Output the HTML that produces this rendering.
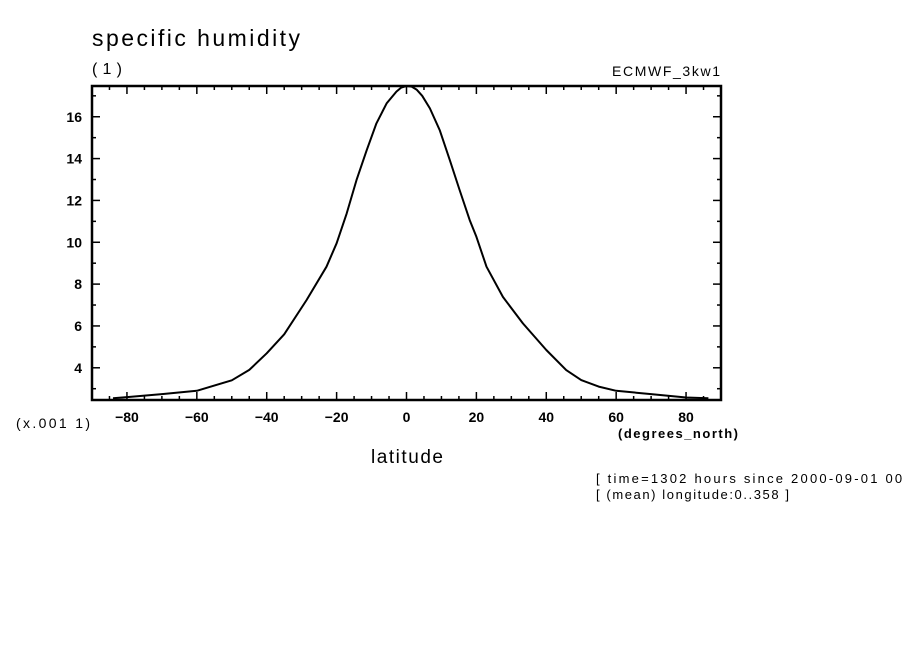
<!DOCTYPE html>
<html><head><meta charset="utf-8"><style>
html,body{margin:0;padding:0;background:#fff;}
svg text{font-family:"Liberation Sans",sans-serif;fill:#000;}
</style></head><body>
<svg id="chart" width="904" height="654" viewBox="0 0 904 654" xmlns="http://www.w3.org/2000/svg">
<text x="92" y="46" font-size="23" textLength="208" lengthAdjust="spacing">specific humidity</text>
<text x="92" y="74" font-size="16" textLength="30">(1)</text>
<text x="612" y="76" font-size="14" textLength="108">ECMWF_3kw1</text>
<text x="16" y="428" font-size="14" textLength="74">(x.001 1)</text>
<text x="618" y="438" font-size="13" font-weight="bold" textLength="120">(degrees_north)</text>
<text x="371" y="463" font-size="19" textLength="72">latitude</text>
<text x="596" y="483" font-size="13" textLength="312">[ time=1302 hours since 2000-09-01 00:</text>
<text x="596" y="499" font-size="13" textLength="193">[ (mean) longitude:0..358 ]</text>
<g id="axes"></g>
<g id="series"></g>
</svg>
<script>
const lats = [-84,-80,-70,-60,-50,-45,-40,-35,-28.6,-22.9,-20,-17.1,-14.3,-11.4,-8.6,-5.7,-2.9,-1.5,0,1.5,2.9,4.5,6.7,9.5,12.4,15.2,18.1,20,22.9,27.6,33.3,40,45.7,50,55,60,70,80,86.4];
const humidity = [2.54,2.6,2.74,2.9,3.4,3.9,4.69,5.6,7.24,8.83,9.95,11.38,12.97,14.4,15.68,16.64,17.2,17.4,17.47,17.44,17.3,17.0,16.4,15.36,13.93,12.5,11.06,10.26,8.83,7.39,6.12,4.85,3.89,3.41,3.1,2.9,2.74,2.58,2.54];
const xTicks = [-80,-60,-40,-20,0,20,40,60,80];
const yTicks = [4,6,8,10,12,14,16];
const xDomain = [-90,90];
const yDomain = [2.46,17.47];

const L=92,R=721,T=86,B=400;
const NS="http://www.w3.org/2000/svg";
function sx(v){return L+(v-xDomain[0])/(xDomain[1]-xDomain[0])*(R-L);}
function sy(v){return B-(v-yDomain[0])/(yDomain[1]-yDomain[0])*(B-T);}
function mk(tag,attrs,parent){const e=document.createElementNS(NS,tag);for(const k in attrs)e.setAttribute(k,attrs[k]);parent.appendChild(e);return e;}
const axes=document.getElementById('axes');
const series=document.getElementById('series');
const frame=mk('rect',{x:L,y:T,width:R-L,height:B-T,fill:'none',stroke:'#000','stroke-width':2.5},axes);


for(let v=-90;v<=90;v+=5){
  const major=xTicks.includes(v); const len=major?8:4;
  const t1=mk('line',{x1:sx(v),x2:sx(v),y1:B,y2:B-len,stroke:'#000','stroke-width':1.5},axes);
  
  
  const t2=mk('line',{x1:sx(v),x2:sx(v),y1:T,y2:T+len,stroke:'#000','stroke-width':1.5},axes);
  
  
}
xTicks.forEach(v=>{
  const t=mk('text',{x:sx(v),y:B+22,'font-size':14,'font-weight':'bold','text-anchor':'middle'},axes);
  t.textContent=(v<0?'\u2212':'')+Math.abs(v);
  
  
});
for(let v=3;v<=17;v+=1){
  const major=yTicks.includes(v); const len=major?8:4;
  const t1=mk('line',{x1:L,x2:L+len,y1:sy(v),y2:sy(v),stroke:'#000','stroke-width':1.5},axes);
  
  
  const t2=mk('line',{x1:R,x2:R-len,y1:sy(v),y2:sy(v),stroke:'#000','stroke-width':1.5},axes);
  
  
}
yTicks.forEach(v=>{
  const t=mk('text',{x:L-10,y:sy(v)+5,'font-size':14,'font-weight':'bold','text-anchor':'end'},axes);
  t.textContent=v;
  
  
});
const d=lats.map((v,i)=>(i?'L':'M')+sx(v).toFixed(1)+','+sy(humidity[i]).toFixed(1)).join(' ');
const p=mk('path',{d:d,fill:'none',stroke:'#000','stroke-width':2,'stroke-linejoin':'round'},series);


</script>
</body></html>
